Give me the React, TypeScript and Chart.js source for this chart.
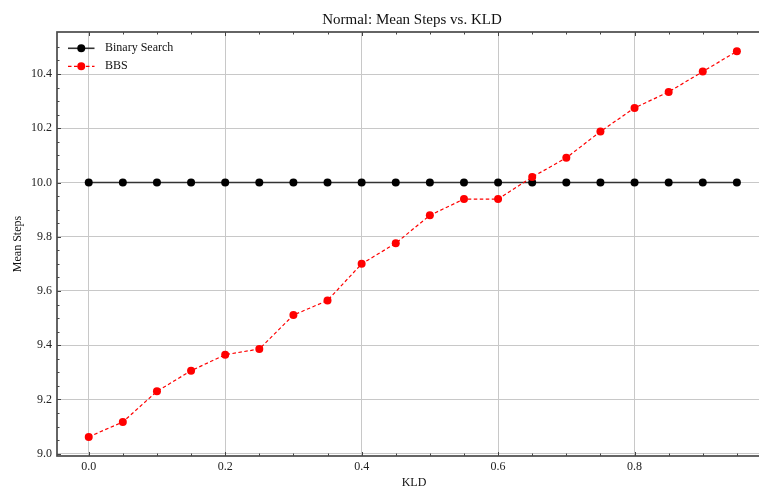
import React, { useEffect, useRef } from "react";
import { Chart, registerables } from "chart.js";

Chart.register(...registerables);

const chartTitle = "Normal: Mean Steps vs. KLD";
const xAxisTitle = "KLD";
const yAxisTitle = "Mean Steps";

const kld = [0.0, 0.05, 0.1, 0.15, 0.2, 0.25, 0.3, 0.35, 0.4, 0.45, 0.5, 0.55, 0.6, 0.65, 0.7, 0.75, 0.8, 0.85, 0.9, 0.95];
const binarySearch = [10.0, 10.0, 10.0, 10.0, 10.0, 10.0, 10.0, 10.0, 10.0, 10.0, 10.0, 10.0, 10.0, 10.0, 10.0, 10.0, 10.0, 10.0, 10.0, 10.0];
const bbs = [9.062, 9.117, 9.23, 9.306, 9.365, 9.386, 9.511, 9.565, 9.70, 9.776, 9.879, 9.939, 9.939, 10.02, 10.091, 10.188, 10.275, 10.334, 10.409, 10.484];

const xMajorTicks = [0.0, 0.2, 0.4, 0.6, 0.8, 1.0];
const yMajorTicks = [9.0, 9.2, 9.4, 9.6, 9.8, 10.0, 10.2, 10.4];
const xMinorTicks = [0.05, 0.1, 0.15, 0.25, 0.3, 0.35, 0.45, 0.5, 0.55, 0.65, 0.7, 0.75, 0.85, 0.9, 0.95];
const yMinorTicks = [9.05, 9.1, 9.15, 9.25, 9.3, 9.35, 9.45, 9.5, 9.55, 9.65, 9.7, 9.75, 9.85, 9.9, 9.95, 10.05, 10.1, 10.15, 10.25, 10.3, 10.35, 10.45, 10.5];

const SERIF = '"Liberation Serif", "DejaVu Serif", serif';

const framePlugin = {
  id: "frameTicks",
  beforeDatasetsDraw(chart: any) {
    const { ctx, chartArea: a, scales } = chart;
    const xs = scales.x;
    const ys = scales.y;
    ctx.save();
    ctx.strokeStyle = "#444";
    ctx.lineWidth = 1;
    const tick = (x1: number, y1: number, x2: number, y2: number) => {
      ctx.beginPath();
      ctx.moveTo(x1, y1);
      ctx.lineTo(x2, y2);
      ctx.stroke();
    };
    for (const v of xMajorTicks) {
      const px = Math.round(xs.getPixelForValue(v)) + 0.5;
      tick(px, a.bottom, px, a.bottom - 4);
      tick(px, a.top, px, a.top + 4);
    }
    for (const v of xMinorTicks) {
      const px = Math.round(xs.getPixelForValue(v)) + 0.5;
      tick(px, a.bottom, px, a.bottom - 2.5);
      tick(px, a.top, px, a.top + 2.5);
    }
    for (const v of yMajorTicks) {
      const py = Math.round(ys.getPixelForValue(v)) + 0.5;
      tick(a.left, py, a.left + 4, py);
      tick(a.right, py, a.right - 4, py);
    }
    for (const v of yMinorTicks) {
      const py = Math.round(ys.getPixelForValue(v)) + 0.5;
      tick(a.left, py, a.left + 2.5, py);
      tick(a.right, py, a.right - 2.5, py);
    }
    ctx.strokeStyle = "#4a4a4a";
    ctx.lineWidth = 1.7;
    ctx.strokeRect(a.left, a.top, a.right - a.left, a.bottom - a.top);
    ctx.restore();
  },
  afterDraw(chart: any) {
    const { ctx, chartArea: a } = chart;
    ctx.save();
    // title
    ctx.fillStyle = "#111";
    ctx.font = `15px ${SERIF}`;
    ctx.textAlign = "center";
    ctx.textBaseline = "middle";
    ctx.fillText(chartTitle, (a.left + a.right) / 2 - 2, 20);
    // legend
    const rows = [a.top + 16.3, a.top + 34.3];
    chart.data.datasets.forEach((ds: any, i: number) => {
      const y = rows[i];
      const x0 = a.left + 11;
      const x1 = a.left + 37.5;
      ctx.strokeStyle = ds.borderColor;
      ctx.lineWidth = ds.borderWidth;
      ctx.setLineDash(ds.borderDash || []);
      ctx.beginPath();
      ctx.moveTo(x0, y);
      ctx.lineTo(x1, y);
      ctx.stroke();
      ctx.setLineDash([]);
      ctx.fillStyle = ds.pointBackgroundColor;
      ctx.beginPath();
      ctx.arc((x0 + x1) / 2, y, ds.pointRadius, 0, Math.PI * 2);
      ctx.fill();
      ctx.fillStyle = "#111";
      ctx.font = `12px ${SERIF}`;
      ctx.textAlign = "left";
      ctx.textBaseline = "middle";
      ctx.fillText(ds.label, a.left + 48, y);
    });
    ctx.restore();
  },
};

export default function App() {
  const ref = useRef<HTMLCanvasElement | null>(null);
  useEffect(() => {
    if (!ref.current) return;
    const chart = new Chart(ref.current, {
      type: "line",
      data: {
        datasets: [
          {
            label: "Binary Search",
            data: kld.map((x, i) => ({ x, y: binarySearch[i] })),
            borderColor: "#333333",
            backgroundColor: "#000",
            pointBackgroundColor: "#000",
            pointBorderColor: "#000",
            borderWidth: 1.6,
            pointRadius: 4,
            pointBorderWidth: 0,
            order: 1,
          } as any,
          {
            label: "BBS",
            data: kld.map((x, i) => ({ x, y: bbs[i] })),
            borderColor: "#ff0000",
            backgroundColor: "#ff0000",
            pointBackgroundColor: "#ff0000",
            pointBorderColor: "#ff0000",
            borderWidth: 1.2,
            borderDash: [3.5, 2.5],
            pointRadius: 4,
            pointBorderWidth: 0,
            order: 0,
          } as any,
        ],
      },
      options: {
        animation: false,
        responsive: false,
        events: [],
        layout: { padding: { top: 32, right: 53, left: 0, bottom: 0 } },
        plugins: {
          legend: { display: false },
          title: { display: false },
          tooltip: { enabled: false },
        },
        scales: {
          x: {
            type: "linear",
            min: -0.0465,
            max: 1.0,
            afterBuildTicks: (s: any) => {
              s.ticks = xMajorTicks.map((v) => ({ value: v }));
            },
            afterFit: (s: any) => {
              s.height = 33;
            },
            grid: { color: "#c8c8c8", lineWidth: 1, drawTicks: false },
            border: { display: false },
            ticks: {
              padding: 4,
              color: "#222",
              font: { family: SERIF, size: 12 },
              callback: (v: any) => Number(v).toFixed(1),
              maxRotation: 0,
              autoSkip: false,
            },
            title: {
              display: true,
              text: xAxisTitle,
              color: "#111",
              font: { family: SERIF, size: 12, lineHeight: 1 },
              padding: { top: 0, bottom: 0 },
            },
          },
          y: {
            type: "linear",
            min: 8.9915,
            max: 10.555,
            afterBuildTicks: (s: any) => {
              s.ticks = yMajorTicks.map((v) => ({ value: v }));
            },
            afterFit: (s: any) => {
              s.width = 57;
            },
            grid: { color: "#c8c8c8", lineWidth: 1, drawTicks: false },
            border: { display: false },
            ticks: {
              padding: 5,
              color: "#222",
              font: { family: SERIF, size: 12 },
              callback: (v: any) => Number(v).toFixed(1),
              autoSkip: false,
            },
            title: {
              display: true,
              text: yAxisTitle,
              color: "#111",
              font: { family: SERIF, size: 12, lineHeight: 1 },
              padding: { top: 12, bottom: 0 },
            },
          },
        },
      },
      plugins: [framePlugin],
    });
    return () => chart.destroy();
  }, []);
  return (
    <div
      style={{
        position: "fixed",
        left: 0,
        top: 0,
        width: 759,
        height: 489,
        overflow: "hidden",
        background: "#fff",
      }}
    >
      <canvas ref={ref} width={824} height={489} style={{ display: "block" }} />
    </div>
  );
}
